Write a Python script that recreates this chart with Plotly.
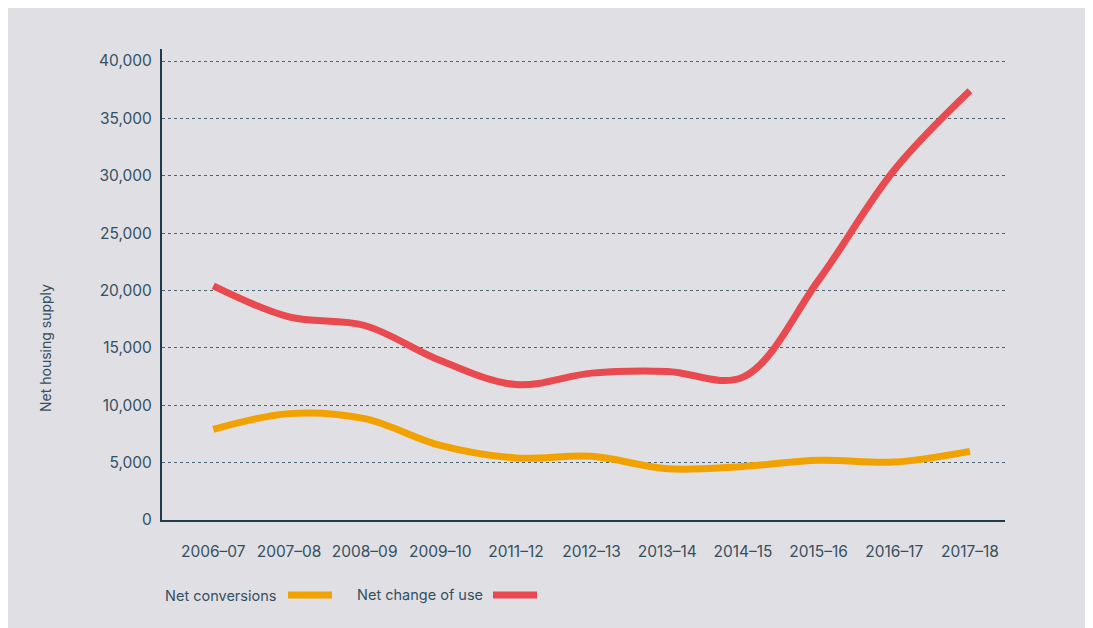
import plotly.graph_objects as go

years = ["2006–07", "2007–08", "2008–09", "2009–10", "2011–12", "2012–13",
         "2013–14", "2014–15", "2015–16", "2016–17", "2017–18"]
net_conversions = [7900, 9270, 8830, 6500, 5400, 5550, 4470, 4670, 5200, 5050, 5980]
net_change_of_use = [20400, 17700, 16950, 13900, 11800, 12800, 12950, 12450, 20900, 30500, 37400]
y_ticks = [0, 5000, 10000, 15000, 20000, 25000, 30000, 35000, 40000]

ORANGE = "#f2a200"
RED = "#e84a4f"
TEXT = "#34505f"
AXIS = "#1e3a4c"
BG = "#e0dfe4"
FONT = "Inter"

idx = list(range(len(years)))

fig = go.Figure()
fig.add_trace(go.Scatter(x=idx, y=net_conversions, mode="lines", name="Net conversions",
                         line=dict(color=ORANGE, width=7, shape="spline", smoothing=1.0)))
fig.add_trace(go.Scatter(x=idx, y=net_change_of_use, mode="lines", name="Net change of use",
                         line=dict(color=RED, width=7, shape="spline", smoothing=1.0)))

OFF = 8  # page offset of the figure (body margin)
W, H = 1078, 632
L, R, T, B = 154, 81, 41, 120
pw = W - L - R
ph = H - T - B

def px(x):  # page x -> paper
    return (x - OFF - L) / pw

def py(y):  # page y -> paper
    return (H - B - (y - OFF)) / ph

shapes = [
    dict(type="line", xref="paper", yref="paper", x0=px(288), x1=px(332), y0=py(595), y1=py(595),
         line=dict(color=ORANGE, width=7)),
    dict(type="line", xref="paper", yref="paper", x0=px(493), x1=px(537), y0=py(595), y1=py(595),
         line=dict(color=RED, width=7)),
]

annotations = [
    dict(text="Net conversions", xref="paper", yref="paper", x=px(163), y=py(595),
         xanchor="left", yanchor="middle", showarrow=False, font=dict(size=14.5, color=TEXT, family=FONT)),
    dict(text="Net change of use", xref="paper", yref="paper", x=px(355), y=py(595),
         xanchor="left", yanchor="middle", showarrow=False, font=dict(size=14.5, color=TEXT, family=FONT)),
    dict(text="Net housing supply", xref="paper", yref="paper", x=px(45), y=py(348),
         xanchor="center", yanchor="middle", textangle=-90, showarrow=False,
         font=dict(size=14, color=TEXT, family=FONT)),
]

fig.update_layout(
    width=W, height=H,
    margin=dict(l=L, r=R, t=T, b=B, pad=0),
    paper_bgcolor=BG,
    plot_bgcolor=BG,
    showlegend=False,
    shapes=shapes,
    annotations=annotations,
    font=dict(family=FONT, color=TEXT, size=15),
    xaxis=dict(
        range=[-0.678, 10.463], tickmode="array", tickvals=idx, ticktext=years,
        showgrid=False, zeroline=False, showline=True, linecolor=AXIS, linewidth=2,
        ticks="", ticklabelstandoff=16, tickfont=dict(size=15.5, color=TEXT),
    ),
    yaxis=dict(
        range=[0, 41046], tickmode="array", tickvals=y_ticks,
        ticktext=[f"{v:,}" for v in y_ticks],
        showgrid=True, gridcolor="#4a6474", gridwidth=1, griddash="dot",
        zeroline=False, showline=True, linecolor=AXIS, linewidth=2,
        ticks="", ticklabelstandoff=5, tickfont=dict(size=15.5, color=TEXT),
    ),
)

fig.write_html("out.html")
